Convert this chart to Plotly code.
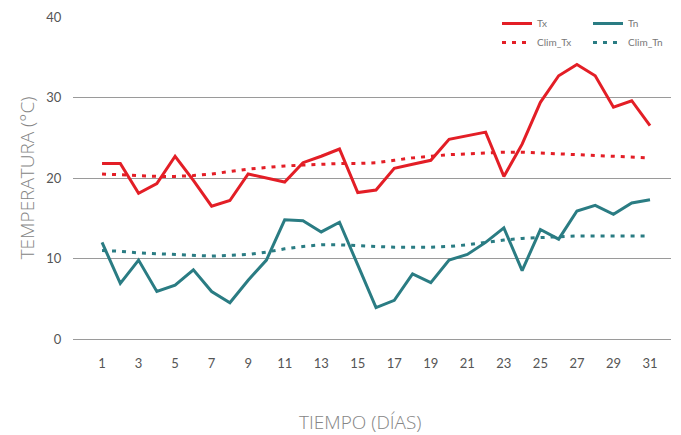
import plotly.graph_objects as go

days = list(range(1, 32))
tx = [21.8, 21.8, 18.1, 19.3, 22.7, 19.7, 16.5, 17.2, 20.5, 20.0, 19.5,
      21.9, 22.7, 23.6, 18.2, 18.5, 21.2, 21.7, 22.2, 24.8, 25.25, 25.7,
      20.2, 24.2, 29.4, 32.7, 34.1, 32.7, 28.8, 29.6, 26.5]
clim_tx = [20.5, 20.4, 20.3, 20.2, 20.2, 20.3, 20.5, 20.8, 21.1, 21.3, 21.5,
           21.6, 21.7, 21.8, 21.8, 21.9, 22.2, 22.5, 22.7, 22.9, 23.0, 23.1,
           23.2, 23.2, 23.1, 23.0, 22.9, 22.8, 22.7, 22.6, 22.5]
tn = [12.0, 6.9, 9.8, 5.9, 6.7, 8.6, 5.9, 4.5, 7.3, 9.8, 14.8, 14.7, 13.3,
      14.5, 9.2, 3.9, 4.8, 8.1, 7.0, 9.8, 10.5, 12.0, 13.8, 8.5, 13.6, 12.4,
      15.9, 16.6, 15.5, 16.9, 17.3]
clim_tn = [11.0, 10.9, 10.7, 10.6, 10.5, 10.4, 10.3, 10.4, 10.5, 10.8, 11.2,
           11.5, 11.7, 11.7, 11.6, 11.5, 11.4, 11.4, 11.4, 11.5, 11.7, 12.0,
           12.3, 12.5, 12.6, 12.7, 12.8, 12.8, 12.8, 12.8, 12.8]
x_ticks = list(range(1, 32, 2))
y_ticks = [0, 10, 20, 30, 40]
x_title = "TIEMPO (DÍAS)"
y_title = "TEMPERATURA (°C)"

RED = "#E31E26"
TEAL = "#2A7C83"
FONT = "Lato"
TITLE_FONT = "Open Sans"

fig = go.Figure()
fig.add_trace(go.Scatter(x=days, y=tx, name="Tx", mode="lines",
                         line=dict(color=RED, width=3), legend="legend"))
fig.add_trace(go.Scatter(x=days, y=clim_tx, name="Clim_Tx", mode="lines",
                         line=dict(color=RED, width=3, dash="4px,6px"),
                         legend="legend"))
fig.add_trace(go.Scatter(x=days, y=tn, name="Tn", mode="lines",
                         line=dict(color=TEAL, width=3), legend="legend2"))
fig.add_trace(go.Scatter(x=days, y=clim_tn, name="Clim_Tn", mode="lines",
                         line=dict(color=TEAL, width=3, dash="4px,6px"),
                         legend="legend2"))

# page has an 8px body margin; figure is sized so it fills the window
OFF = 8
W, H = 681 - OFF, 435 - OFF
L, R, T, B = 73 - OFF, 681 - 671, 17 - OFF, 435 - 339
PW = W - L - R
PH = H - T - B

fig.update_layout(
    width=W, height=H,
    margin=dict(l=L, r=R, t=T, b=B, autoexpand=False),
    paper_bgcolor="white", plot_bgcolor="white",
    font=dict(family=FONT, color="#666"),
    showlegend=True,
    legend=dict(x=(478 - 73) / PW, y=(339 - 9) / PH,
                xanchor="left", yanchor="top", bgcolor="white",
                indentation=19, font=dict(size=10, color="#777"),
                traceorder="normal"),
    legend2=dict(x=(575 - 73) / PW, y=(339 - 9) / PH,
                 xanchor="left", yanchor="top", bgcolor="white",
                 indentation=13, font=dict(size=10, color="#777"),
                 traceorder="normal"),
    xaxis=dict(range=[-0.59, 32.15], tickvals=x_ticks, showgrid=False,
               zeroline=False, showline=False,
               ticks="outside", ticklen=12, tickcolor="rgba(0,0,0,0)",
               tickfont=dict(size=13, color="#555"),
               automargin=False),
    yaxis=dict(range=[0, 40], tickvals=y_ticks, showgrid=True,
               gridcolor="#9A9A9A", gridwidth=1.3,
               zeroline=True, zerolinecolor="#9A9A9A", zerolinewidth=1.3,
               showline=False,
               ticks="outside", ticklen=8, tickcolor="rgba(0,0,0,0)",
               tickfont=dict(size=13, color="#555"),
               title=dict(text=y_title, standoff=6,
                          font=dict(size=19, color="#858585",
                                    family=TITLE_FONT, weight=300)),
               automargin=False),
    annotations=[dict(text=x_title, xref="paper", yref="paper",
                      x=(360 - 73) / PW, y=-(422 - 339) / PH,
                      xanchor="center", yanchor="middle", showarrow=False,
                      font=dict(size=19, color="#858585",
                                family=TITLE_FONT, weight=300))],
)

fig.write_html("out.html")
